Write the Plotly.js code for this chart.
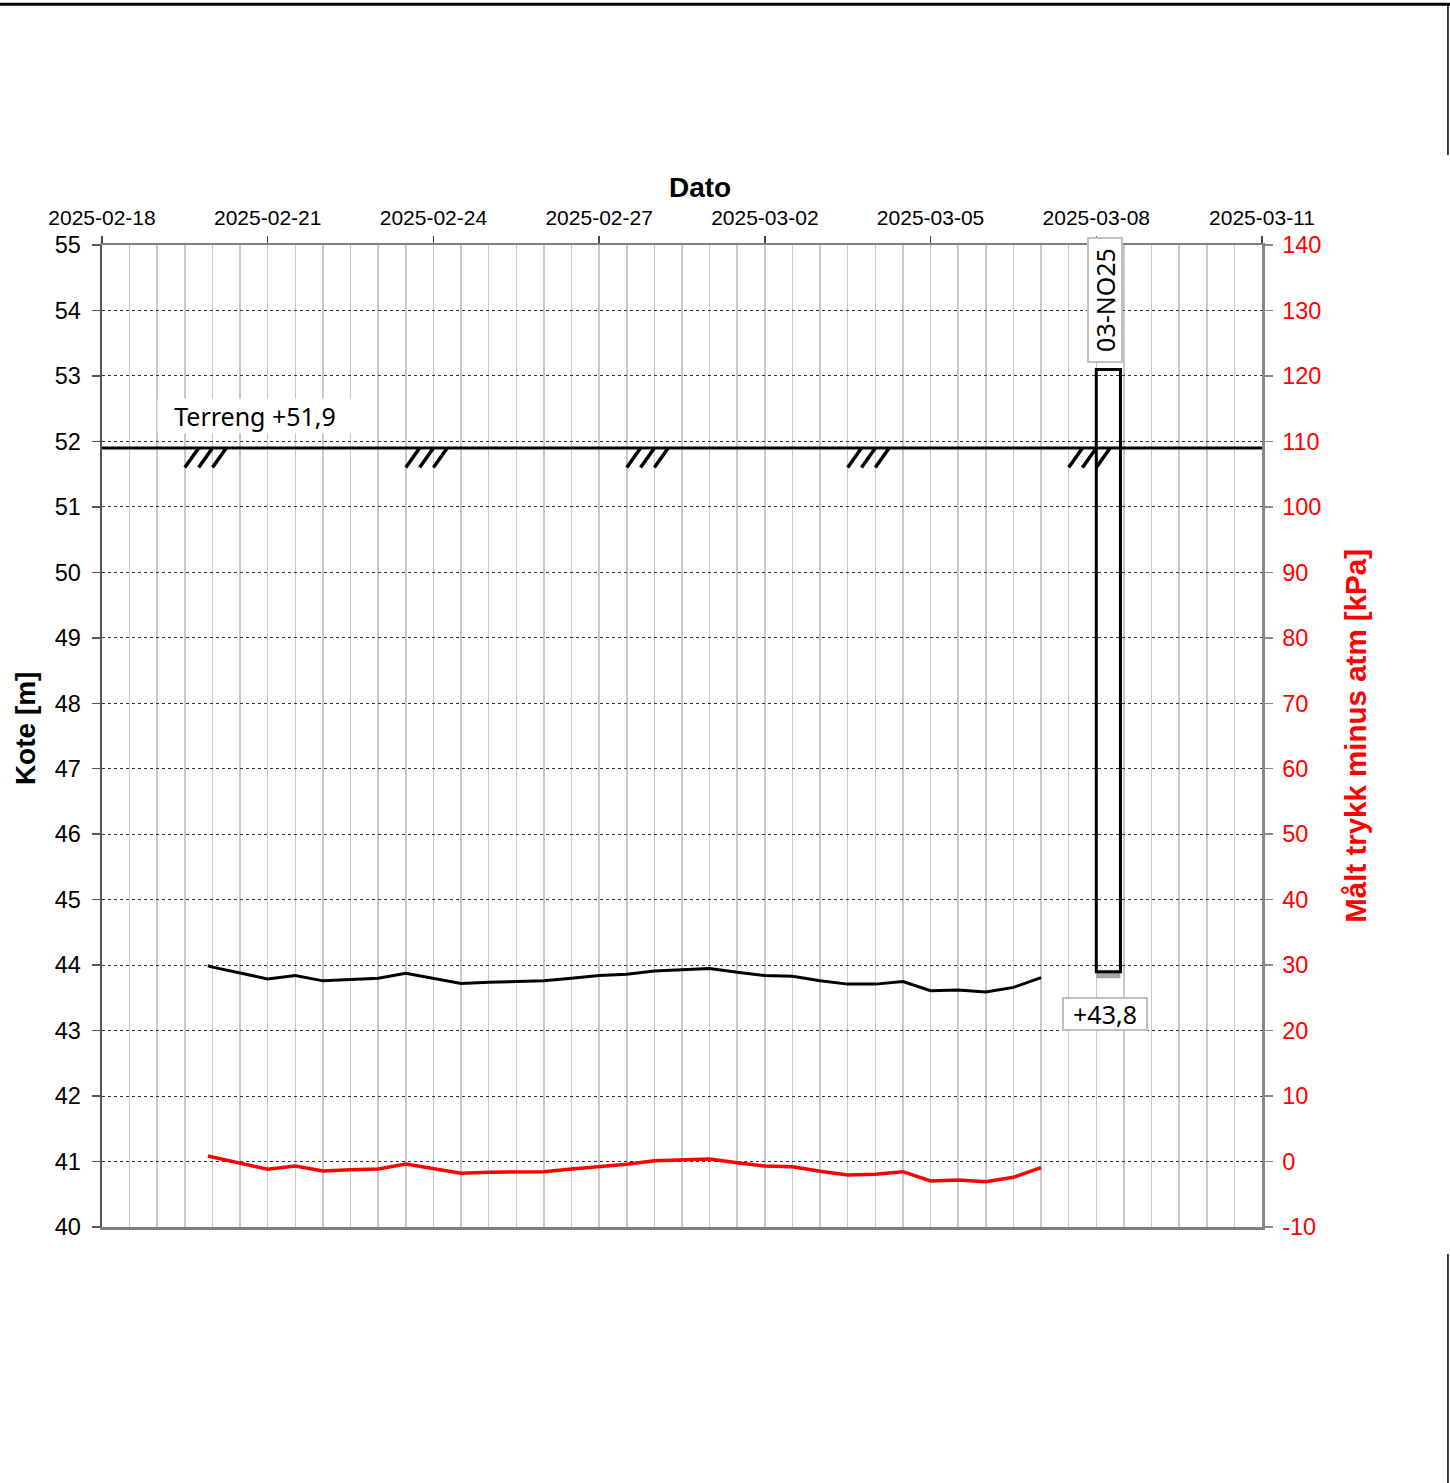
<!DOCTYPE html>
<html>
<head>
<meta charset="utf-8">
<script src="https://cdn.plot.ly/plotly-3.0.1.min.js"></script>
<style>html,body{margin:0;padding:0;background:#fff;}#chart{width:1450px;height:1483px;}</style>
</head>
<body>
<div id="chart"></div>
<script>
// ---- data ----
const dates = [
  '2025-02-19 22:00','2025-02-20 00:00','2025-02-20 12:00','2025-02-21 00:00','2025-02-21 12:00',
  '2025-02-22 00:00','2025-02-22 12:00','2025-02-23 00:00','2025-02-23 12:00','2025-02-24 00:00',
  '2025-02-24 12:00','2025-02-25 00:00','2025-02-25 12:00','2025-02-26 00:00','2025-02-26 12:00',
  '2025-02-27 00:00','2025-02-27 12:00','2025-02-28 00:00','2025-02-28 12:00','2025-03-01 00:00',
  '2025-03-01 12:00','2025-03-02 00:00','2025-03-02 12:00','2025-03-03 00:00','2025-03-03 12:00',
  '2025-03-04 00:00','2025-03-04 12:00','2025-03-05 00:00','2025-03-05 12:00','2025-03-06 00:00',
  '2025-03-06 12:00','2025-03-07 00:00'
];
const kote = [
  43.99, 43.97, 43.88, 43.79, 43.84,
  43.76, 43.78, 43.80, 43.875, 43.80,
  43.72, 43.74, 43.75, 43.76, 43.80,
  43.84, 43.86, 43.91, 43.93, 43.95,
  43.89, 43.84, 43.83, 43.76, 43.71,
  43.71, 43.75, 43.61, 43.62, 43.59,
  43.66, 43.81
];
const trykk = [
  0.85, 0.70, -0.20, -1.19, -0.68,
  -1.45, -1.25, -1.14, -0.38, -1.10,
  -1.80, -1.65, -1.60, -1.55, -1.14,
  -0.79, -0.42, 0.13, 0.25, 0.39,
  -0.20, -0.68, -0.79, -1.50, -2.06,
  -1.96, -1.55, -2.97, -2.82, -3.08,
  -2.41, -0.94
];
const xTickVals = ['2025-02-18','2025-02-21','2025-02-24','2025-02-27','2025-03-02','2025-03-05','2025-03-08','2025-03-11'];
const xTickText = ['2025-02-18','2025-02-21','2025-02-24','2025-02-27','2025-03-02','2025-03-05','2025-03-08','2025-03-11'];
const y1TickVals = [40,41,42,43,44,45,46,47,48,49,50,51,52,53,54,55];
const y1TickText = ['40','41','42','43','44','45','46','47','48','49','50','51','52','53','54','55'];
const y2TickVals = [-10,0,10,20,30,40,50,60,70,80,90,100,110,120,130,140];
const y2TickText = ['-10','0','10','20','30','40','50','60','70','80','90','100','110','120','130','140'];
const terreng = 51.9;
const terrengLabel = 'Terreng +51,9';
const hatchDates = ['2025-02-19 12:00','2025-02-23 12:00','2025-02-27 12:00','2025-03-03 12:00','2025-03-07 12:00'];
const sensorName = '03-NO25';
const sensorStart = '2025-03-08 00:00';
const sensorEnd = '2025-03-08 10:30';
const sensorTop = 53.1;
const filterTop = 43.9;
const sensorKote = 43.8;
const sensorLabel = '+43,8';

// ---- helpers ----
function parseUTC(s){
  const [d,t] = s.split(' ');
  const [Y,M,D] = d.split('-').map(Number);
  const [h,m] = (t||'00:00').split(':').map(Number);
  return Date.UTC(Y,M-1,D,h,m);
}
function fmt(ms){ return new Date(ms).toISOString().slice(0,19).replace('T',' '); }
const H = 3600000;

const shapes = [];
// terrain line
shapes.push({type:'line', xref:'paper', yref:'y', x0:0, x1:1, y0:terreng, y1:terreng,
  line:{color:'#000', width:3}});
// hatch marks
hatchDates.forEach(d => {
  const t0 = parseUTC(d);
  for (let k=0;k<3;k++){
    const a = t0 + k*6*H;
    shapes.push({type:'line', xref:'x', yref:'y', x0:fmt(a), x1:fmt(a+6*H), y0:terreng-0.30, y1:terreng,
      line:{color:'#000', width:3.5}});
  }
});
// sensor pipe
shapes.push({type:'rect', xref:'x', yref:'y', x0:sensorStart, x1:sensorEnd, y0:sensorKote, y1:filterTop,
  fillcolor:'#a6a6a6', line:{width:0}});
shapes.push({type:'rect', xref:'x', yref:'y', x0:sensorStart, x1:sensorEnd, y0:filterTop, y1:sensorTop,
  fillcolor:'rgba(0,0,0,0)', line:{color:'#000', width:3}});
// page border pieces
shapes.push({type:'line', xref:'paper', yref:'paper', x0:-0.09, x1:1.165, y0:1.2451, y1:1.2451, line:{color:'#000', width:3}});
shapes.push({type:'line', xref:'paper', yref:'paper', x0:1.1603, x1:1.1603, y0:1.0916, y1:1.2454, line:{color:'#000', width:1.5}});
shapes.push({type:'line', xref:'paper', yref:'paper', x0:1.1603, x1:1.1603, y0:-0.0275, y1:-0.27, line:{color:'#000', width:1.5}});

const annFont = {family:'Noto Sans, Open Sans, sans-serif', size:25, color:'#000'};
const annotations = [
  {xref:'paper', yref:'paper', x:0.5155, y:1.059, text:'<b>Dato</b>', showarrow:false,
    font:{family:'Liberation Sans, Arial, sans-serif', size:28, color:'#000'}, xanchor:'center', yanchor:'middle'},
  {xref:'paper', yref:'paper', x:-0.0664, y:0.508, text:'<b>Kote [m]</b>', showarrow:false, textangle:-90,
    font:{family:'Liberation Sans, Arial, sans-serif', size:28, color:'#000'}, xanchor:'center', yanchor:'middle'},
  {xref:'paper', yref:'paper', x:1.080, y:0.5, text:'<b>Målt trykk minus atm [kPa]</b>', showarrow:false, textangle:-90,
    font:{family:'Liberation Sans, Arial, sans-serif', size:29.5, color:'#ff0000'}, xanchor:'center', yanchor:'middle'},
  {xref:'paper', yref:'paper', x:(255-102)/1160, y:(1227-416)/982, text:terrengLabel, showarrow:false,
    font:annFont, bgcolor:'#fff', width:192, height:32, xanchor:'center', yanchor:'middle'},
  {xref:'paper', yref:'paper', x:(1105-102)/1160, y:(1227-300)/982, text:sensorName, showarrow:false, textangle:-90,
    font:annFont, bgcolor:'#fff', bordercolor:'#bfbfbf', borderwidth:2, width:120, height:30, xanchor:'center', yanchor:'middle'},
  {xref:'paper', yref:'paper', x:(1105-102)/1160, y:(1227-1014)/982, text:sensorLabel, showarrow:false,
    font:annFont, bgcolor:'#fff', bordercolor:'#bfbfbf', borderwidth:2, width:80, height:28, xanchor:'center', yanchor:'middle'}
];

const tickFont = {family:'Liberation Sans, Arial, sans-serif', size:21, color:'#000'};

const traces = [
  {x:dates, y:kote, type:'scatter', mode:'lines', line:{color:'#000', width:3}, yaxis:'y', hoverinfo:'skip'},
  {x:dates, y:trykk, type:'scatter', mode:'lines', line:{color:'#ff0000', width:3.5}, yaxis:'y2', hoverinfo:'skip'}
];

const layout = {
  width:1450, height:1483,
  margin:{l:102, r:188, t:245, b:256, pad:0},
  paper_bgcolor:'#fff', plot_bgcolor:'#fff',
  showlegend:false,
  xaxis:{
    type:'date', side:'top', range:['2025-02-18','2025-03-11'],
    tickmode:'array', tickvals:xTickVals, ticktext:xTickText,
    ticks:'outside', ticklen:7, tickwidth:1.5, tickcolor:'#444',
    tickfont:tickFont, ticklabelstandoff:2,
    showgrid:true, gridcolor:'#c8c8c8', gridwidth:1.5,
    minor:{dtick:12*H, tick0:'2025-02-18', showgrid:true, gridcolor:'#c8c8c8', gridwidth:1.5, ticks:''},
    showline:true, linecolor:'#7f7f7f', linewidth:2.5, mirror:true,
    zeroline:false, fixedrange:true
  },
  yaxis:{
    range:[40,55], tickmode:'array', tickvals:y1TickVals, ticktext:y1TickText,
    ticks:'outside', ticklen:8, tickwidth:1.5, tickcolor:'#555',
    tickfont:{family:'Liberation Sans, Arial, sans-serif', size:23.5, color:'#000'}, ticklabelstandoff:6,
    showgrid:true, gridcolor:'#333', gridwidth:1, griddash:'dot',
    showline:true, linecolor:'#555', linewidth:2.5,
    zeroline:false, fixedrange:true
  },
  yaxis2:{
    overlaying:'y', side:'right', range:[-10,140], tickmode:'array', tickvals:y2TickVals, ticktext:y2TickText,
    ticks:'outside', ticklen:8, tickwidth:1.5, tickcolor:'#888',
    tickfont:{family:'Liberation Sans, Arial, sans-serif', size:23.5, color:'#ff0000'}, ticklabelstandoff:5,
    showgrid:false, showline:true, linecolor:'#888', linewidth:2.5,
    zeroline:false, fixedrange:true
  },
  shapes:shapes,
  annotations:annotations
};

Plotly.newPlot('chart', traces, layout, {displayModeBar:false, staticPlot:true});
</script>
</body>
</html>
